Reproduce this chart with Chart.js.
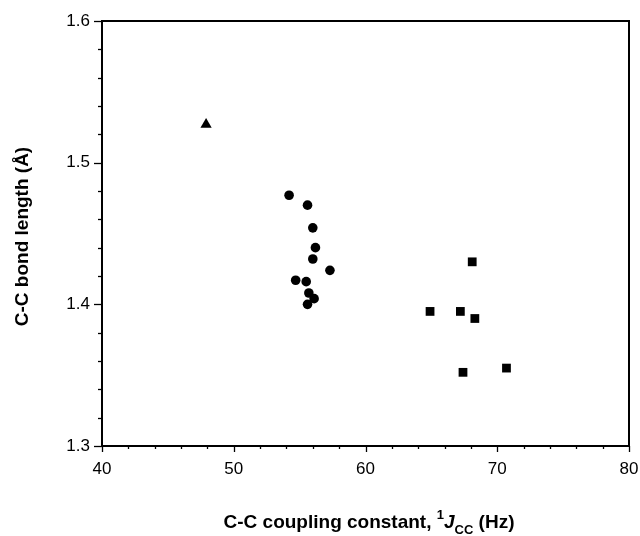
<!DOCTYPE html>
<html lang="en">
<head>
    <meta charset="UTF-8">
    <title>C-C bond length vs coupling constant</title>
    <script src="https://cdn.jsdelivr.net/npm/chart.js"></script>
    <style>
        body { margin: 0; background: #fff; }
        #wrap { width: 640px; height: 536px; }
    </style>
</head>
<body>
    <div id="wrap"><canvas id="chart" width="640" height="536"></canvas></div>

    <script>
        // Data
        const triangleX = [47.9];
        const triangleY = [1.527];

        const circleX = [54.2, 55.6, 56.0, 56.2, 56.0, 57.3, 54.7, 55.5, 55.7, 56.1, 55.6];
        const circleY = [1.477, 1.470, 1.454, 1.440, 1.432, 1.424, 1.417, 1.416, 1.408, 1.404, 1.400];

        const squareX = [68.1, 64.9, 67.2, 68.3, 67.4, 70.7];
        const squareY = [1.430, 1.395, 1.395, 1.390, 1.352, 1.355];

        // axis ranges / ticks
        const xRange = [40, 80];
        const xMinorStep = 2;
        const xMajorStep = 10;
        const yRange = [1.3, 1.6];
        const yMinorStep = 0.02;
        const yMajorStep = 0.1;

        const pts = (xs, ys) => xs.map((x, i) => ({ x: x, y: ys[i] }));
        const isMajor = (v, step) => Math.abs(v / step - Math.round(v / step)) < 1e-6;

        const family = '"Liberation Sans", Arial, sans-serif';
        const fontTitle = 'bold 19px ' + family;
        const fontSmall = 'bold 13px ' + family;

        // frame, ticks and axis titles
        const framePlugin = {
            id: 'frame',
            afterDraw(chart) {
                const ctx = chart.ctx;
                const a = chart.chartArea;
                ctx.save();
                ctx.strokeStyle = '#000';
                ctx.lineWidth = 2;
                ctx.strokeRect(a.left, a.top, a.right - a.left, a.bottom - a.top);

                ctx.lineWidth = 1.3;
                const xs = chart.scales.x;
                xs.ticks.forEach(t => {
                    const px = Math.round(xs.getPixelForValue(t.value)) + 0.5;
                    const len = isMajor(t.value, xMajorStep) ? 6 : 3;
                    ctx.beginPath();
                    ctx.moveTo(px, a.bottom);
                    ctx.lineTo(px, a.bottom + len);
                    ctx.stroke();
                });
                const ys = chart.scales.y;
                ys.ticks.forEach(t => {
                    const py = Math.round(ys.getPixelForValue(t.value)) + 0.5;
                    const len = isMajor(t.value, yMajorStep) ? 8 : 4;
                    ctx.beginPath();
                    ctx.moveTo(a.left, py);
                    ctx.lineTo(a.left - len, py);
                    ctx.stroke();
                });

                // y title
                ctx.fillStyle = '#000';
                ctx.font = fontTitle;
                ctx.save();
                ctx.translate(23, (a.top + a.bottom) / 2 + 3);
                ctx.rotate(-Math.PI / 2);
                ctx.textAlign = 'center';
                ctx.textBaseline = 'middle';
                ctx.fillText('C-C bond length (Å)', 0, 0);
                ctx.restore();

                // x title with superscript / subscript
                const parts = [
                    { t: 'C-C coupling constant, ', f: fontTitle, dy: 0 },
                    { t: '1', f: fontSmall, dy: -9 },
                    { t: 'J', f: 'italic ' + fontTitle, dy: 0 },
                    { t: 'CC', f: fontSmall, dy: 6 },
                    { t: ' (Hz)', f: fontTitle, dy: 0 }
                ];
                let total = 0;
                parts.forEach(p => { ctx.font = p.f; p.w = ctx.measureText(p.t).width; total += p.w; });
                let x = 369 - total / 2;
                const base = 528;
                ctx.textAlign = 'left';
                ctx.textBaseline = 'alphabetic';
                parts.forEach(p => {
                    ctx.font = p.f;
                    ctx.fillText(p.t, x, base + p.dy);
                    x += p.w;
                });
                ctx.restore();
            }
        };

        const ctx = document.getElementById('chart').getContext('2d');
        new Chart(ctx, {
            type: 'scatter',
            data: {
                datasets: [
                    {
                        label: 'triangle',
                        data: pts(triangleX, triangleY),
                        pointStyle: 'triangle',
                        pointRadius: 6.5,
                        backgroundColor: '#000',
                        borderColor: '#000',
                        borderWidth: 0
                    },
                    {
                        label: 'circle',
                        data: pts(circleX, circleY),
                        pointStyle: 'circle',
                        pointRadius: 4.8,
                        backgroundColor: '#000',
                        borderColor: '#000',
                        borderWidth: 0
                    },
                    {
                        label: 'square',
                        data: pts(squareX, squareY),
                        pointStyle: 'rect',
                        pointRadius: 6.2,
                        backgroundColor: '#000',
                        borderColor: '#000',
                        borderWidth: 0
                    }
                ]
            },
            options: {
                responsive: false,
                animation: false,
                layout: { padding: { top: 21, right: 11, left: 0, bottom: 0 } },
                plugins: {
                    legend: { display: false },
                    tooltip: { enabled: false }
                },
                scales: {
                    x: {
                        type: 'linear',
                        min: xRange[0],
                        max: xRange[1],
                        grid: { display: false, drawTicks: false },
                        border: { display: false },
                        ticks: {
                            stepSize: xMinorStep,
                            autoSkip: false,
                            maxRotation: 0,
                            padding: 13,
                            color: '#000',
                            font: { family: family, size: 17 },
                            callback: v => isMajor(v, xMajorStep) ? String(Math.round(v)) : ''
                        },
                        afterFit: s => {
                            s.height = 90;
                            s.paddingLeft = 0;
                            s.paddingRight = 0;
                        }
                    },
                    y: {
                        type: 'linear',
                        min: yRange[0],
                        max: yRange[1],
                        grid: { display: false, drawTicks: false },
                        border: { display: false },
                        ticks: {
                            stepSize: yMinorStep,
                            autoSkip: false,
                            padding: 12,
                            color: '#000',
                            font: { family: family, size: 17 },
                            callback: v => isMajor(v, yMajorStep) ? v.toFixed(1) : ''
                        },
                        afterFit: s => {
                            s.width = 102;
                            s.paddingTop = 0;
                            s.paddingBottom = 0;
                        }
                    }
                }
            },
            plugins: [framePlugin]
        });
    </script>
</body>
</html>
